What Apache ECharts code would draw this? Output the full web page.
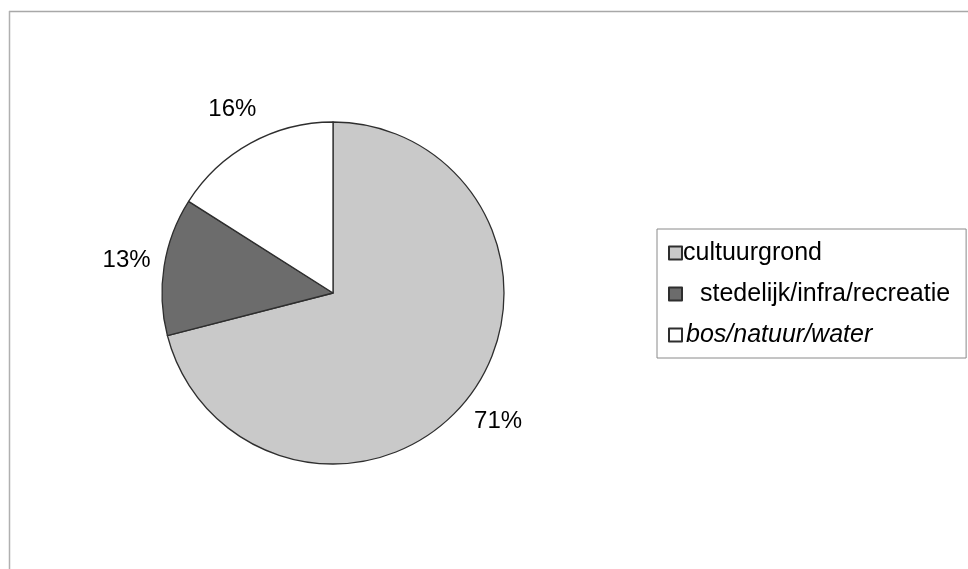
<!DOCTYPE html>
<html>
<head>
<meta charset="utf-8">
<script src="https://cdn.jsdelivr.net/npm/echarts@6/dist/echarts.min.js"></script>
<style>
html,body{margin:0;padding:0;background:#fff;}
#chart{width:968px;height:569px;}
</style>
</head>
<body>
<div id="chart"></div>
<script>
const categories = ['cultuurgrond', 'stedelijk/infra/recreatie', 'bos/natuur/water'];
const shares = [71, 13, 16];
const sliceColors = ['#c9c9c9', '#6c6c6c', '#ffffff'];

const chart = echarts.init(document.getElementById('chart'), null, {renderer: 'canvas'});
const FONT = '"Liberation Sans", Arial, Helvetica, sans-serif';

const data = categories.map((name, i) => ({
  name: name,
  value: shares[i],
  itemStyle: {color: sliceColors[i]}
}));

chart.setOption({
  backgroundColor: '#ffffff',
  animation: false,
  graphic: [
    {type: 'line', shape: {x1: 9, y1: 11.5, x2: 968, y2: 11.5}, style: {stroke: '#a8a8a8', lineWidth: 1.5}},
    {type: 'line', shape: {x1: 9.5, y1: 11, x2: 9.5, y2: 569}, style: {stroke: '#b0b0b0', lineWidth: 1.5}}
  ],
  legend: {
    orient: 'vertical',
    left: 657,
    top: 229,
    padding: [10, 16, 9, 11],
    borderColor: '#8a8a8a',
    borderWidth: 1,
    itemWidth: 13,
    itemHeight: 13,
    itemGap: 13,
    icon: 'rect',
    data: categories,
    textStyle: {
      fontFamily: FONT,
      fontSize: 25,
      color: '#000',
      lineHeight: 28,
      rich: {
        a: {fontFamily: FONT, fontSize: 25, color: '#000', lineHeight: 28, padding: [0, 0, 0, -4]},
        b: {fontFamily: FONT, fontSize: 25, color: '#000', lineHeight: 28, padding: [0, 0, 0, 13]},
        c: {fontFamily: FONT, fontSize: 25, color: '#000', lineHeight: 28, fontStyle: 'italic', padding: [0, 0, 0, -1]}
      }
    },
    formatter: function (name) {
      const idx = categories.indexOf(name);
      const key = ['a', 'b', 'c'][idx];
      return '{' + key + '|' + name + '}';
    }
  },
  series: [{
    type: 'pie',
    center: [333, 293],
    radius: 171,
    startAngle: 90,
    clockwise: true,
    avoidLabelOverlap: false,
    data: data,
    itemStyle: {borderColor: '#2e2e2e', borderWidth: 1.3},
    label: {
      show: true,
      position: 'outside',
      formatter: '{c}%',
      fontFamily: FONT,
      fontSize: 24,
      color: '#000'
    },
    labelLine: {show: true, length: 38, length2: 0, lineStyle: {opacity: 0, width: 0}},
    labelLayout: function (p) {
      const pts = p.labelLinePoints;
      if (!pts) return {};
      return {x: pts[1][0], y: pts[1][1], align: 'center', verticalAlign: 'middle'};
    },
    emphasis: {disabled: true}
  }]
});
</script>
</body>
</html>
